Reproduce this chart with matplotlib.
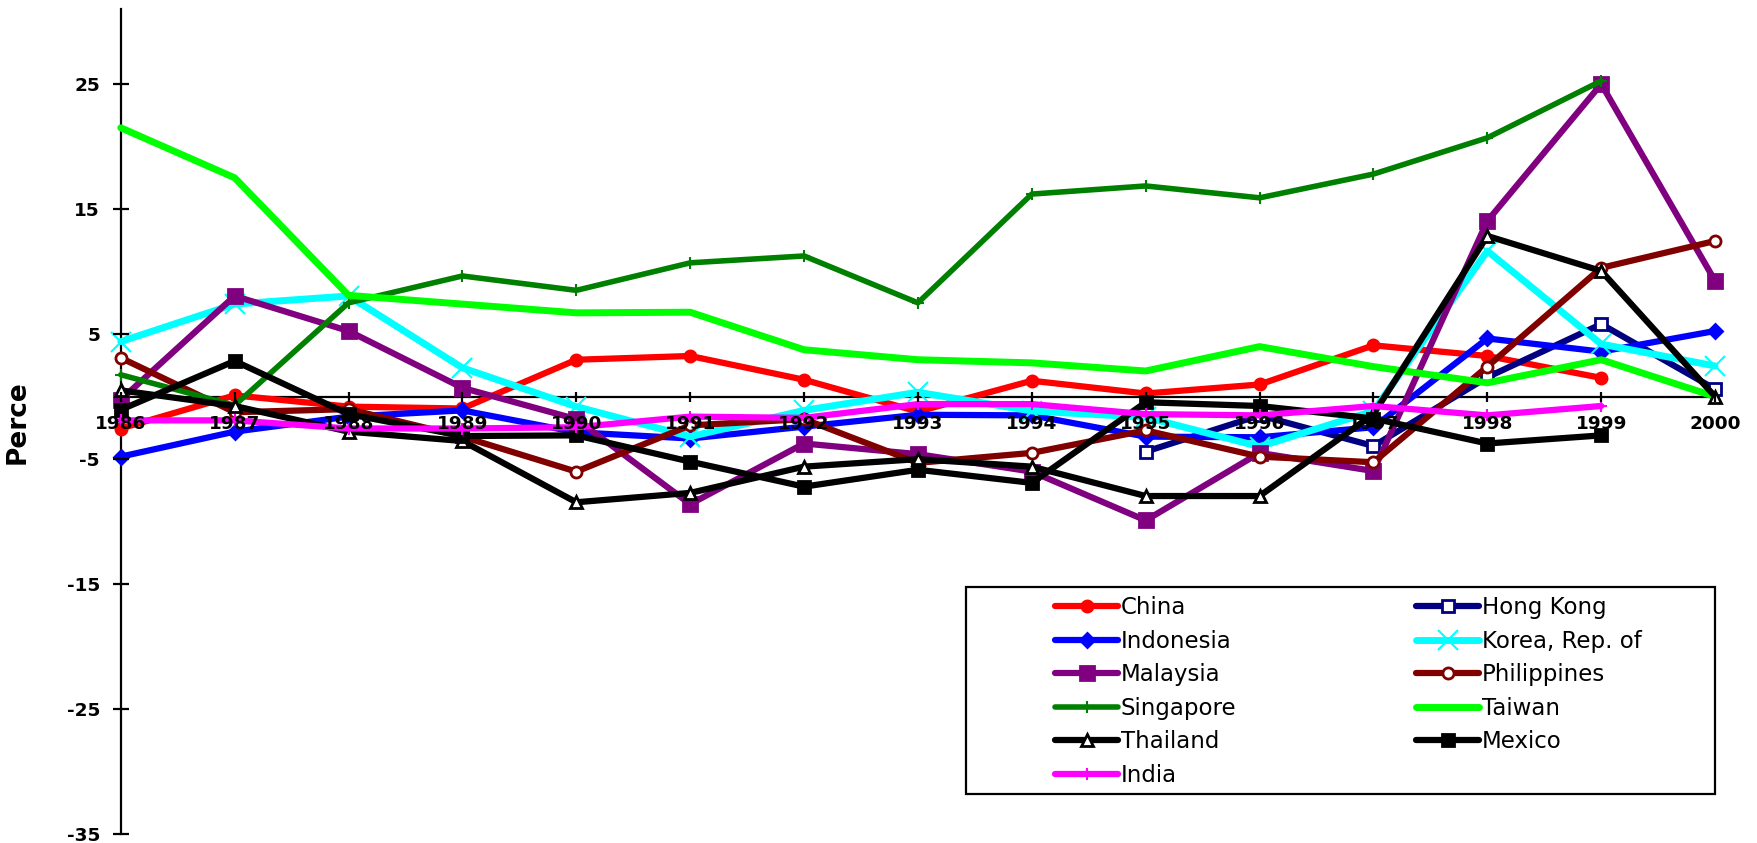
import numpy as np
import matplotlib
matplotlib.use("Agg")
import matplotlib.pyplot as plt
from matplotlib.patches import Rectangle

nan = np.nan
years = list(range(1986, 2001))

china = [-2.55, 0.1, -0.8, -0.95, 2.95, 3.25, 1.35, -1.2, 1.27, 0.25, 0.97, 4.1, 3.25, 1.5, nan]
hong_kong = [nan, nan, nan, nan, nan, nan, nan, nan, nan, -4.4, -1.5, -3.95, 1.55, 5.8, 0.6]
indonesia = [-4.8, -2.8, -1.6, -1.1, -2.85, -3.35, -2.4, -1.45, -1.5, -3.2, -3.25, -2.45, 4.65, 3.6, 5.25]
korea = [4.4, 7.4, 8.05, 2.3, -0.8, -3.2, -1.1, 0.35, -1.15, -1.65, -4.0, -1.15, 11.65, 4.2, 2.45]
malaysia = [-0.25, 8.05, 5.25, 0.7, -1.8, -8.6, -3.75, -4.6, -6.0, -9.9, -4.5, -5.95, 14.05, 25.0, 9.25]
philippines = [3.1, -1.25, -1.0, -3.2, -6.0, -2.3, -1.8, -5.3, -4.5, -2.7, -4.8, -5.25, 2.4, 10.3, 12.45]
singapore = [1.75, -0.7, 7.5, 9.65, 8.5, 10.7, 11.25, 7.5, 16.2, 16.85, 15.9, 17.8, 20.7, 25.25, nan]
taiwan = [21.5, 17.5, 8.1, 7.4, 6.7, 6.75, 3.75, 2.95, 2.7, 2.05, 4.0, 2.4, 1.1, 2.95, 0.0]
thailand = [0.5, -0.75, -2.8, -3.55, -8.45, -7.7, -5.6, -5.0, -5.6, -7.95, -7.95, -1.4, 12.85, 10.05, 0.0]
mexico = [-1.05, 2.85, -1.4, -3.15, -3.1, -5.2, -7.2, -5.85, -6.9, -0.45, -0.75, -1.75, -3.75, -3.1, nan]
india = [-1.9, -1.9, -2.55, -2.55, -2.45, -1.6, -1.7, -0.6, -0.6, -1.4, -1.5, -0.75, -1.5, -0.75, nan]

yticks = [-35, -25, -15, -5, 5, 15, 25]

plt.rcParams['font.family'] = ['DejaVu Sans']
plt.rcParams['axes.unicode_minus'] = False

fig = plt.figure(figsize=(17.58, 8.43), dpi=100)
ax = fig.add_axes([0.0687, 0.0104, 0.9069, 0.9789])

# name, data, color, marker, markersize, face, lw
series = [
    ("China", china, "#FF0000", "o", 8, "#FF0000", 4.5),
    ("Hong Kong", hong_kong, "#000080", "s", 9, "white", 4.5),
    ("Indonesia", indonesia, "#0000FF", "D", 7, "#0000FF", 4.5),
    ("Korea, Rep. of", korea, "#00FFFF", "x", 14, "#00FFFF", 5),
    ("Malaysia", malaysia, "#800080", "s", 10, "#800080", 4.5),
    ("Philippines", philippines, "#800000", "o", 8, "white", 4.5),
    ("Singapore", singapore, "#008000", "+", 9, "#008000", 4),
    ("Taiwan", taiwan, "#00FF00", "None", 0, "#00FF00", 5),
    ("Thailand", thailand, "#000000", "^", 8, "white", 4.5),
    ("Mexico", mexico, "#000000", "s", 9, "#000000", 4.5),
    ("India", india, "#FF00FF", "+", 9, "#FF00FF", 4.5),
]

handles = {}
for name, vals, col, mk, ms, face, lw in series:
    mew = 1.5 if mk in ("x", "+") else 2
    ln, = ax.plot(years, vals, color=col, lw=lw, marker=mk, markersize=ms,
                  markerfacecolor=face, markeredgecolor=col, markeredgewidth=mew,
                  solid_capstyle="round", solid_joinstyle="round", clip_on=False, label=name)
    handles[name] = ln

ax.set_xlim(1986, 2000)
ax.set_ylim(-35, 31)
ax.set_xticks(years)
ax.set_yticks(yticks)

ax.spines["top"].set_visible(False)
ax.spines["right"].set_visible(False)
ax.spines["bottom"].set_position(("data", 0))
for s in ("left", "bottom"):
    ax.spines[s].set_linewidth(1.6)
    ax.spines[s].set_zorder(1)
ax.set_axisbelow(False)

ax.tick_params(axis="x", direction="inout", length=7, width=1.6, pad=10, labelsize=13.3)
ax.tick_params(axis="y", direction="inout", length=12, width=1.6, pad=9, labelsize=13.3)
for lab in ax.get_xticklabels() + ax.get_yticklabels():
    lab.set_fontweight("bold")

ax.set_ylabel("Perce", fontsize=19, fontweight="bold", labelpad=0)
ax.yaxis.set_label_coords(-0.0565, 0.5)

# legend box
ax.add_patch(Rectangle((0.530, 0.0487), 0.470, 0.2509, transform=ax.transAxes,
                       facecolor="white", edgecolor="black", lw=1.6, zorder=4, clip_on=False))

col1 = ["China", "Indonesia", "Malaysia", "Singapore", "Thailand", "India"]
col2 = ["Hong Kong", "Korea, Rep. of", "Philippines", "Taiwan", "Mexico"]
leg_kw = dict(loc="upper left", frameon=False, fontsize=16.5, borderpad=0, borderaxespad=0,
              handlelength=2.75, handletextpad=0.12, labelspacing=0.46)
leg1 = ax.legend([handles[n] for n in col1], col1, bbox_to_anchor=(0.586, 0.2887), **leg_kw)
leg1.set_zorder(5)
ax.add_artist(leg1)
leg2 = ax.legend([handles[n] for n in col2], col2, bbox_to_anchor=(0.8125, 0.2887), **leg_kw)
leg2.set_zorder(5)

fig.savefig("out.png", dpi=100)
